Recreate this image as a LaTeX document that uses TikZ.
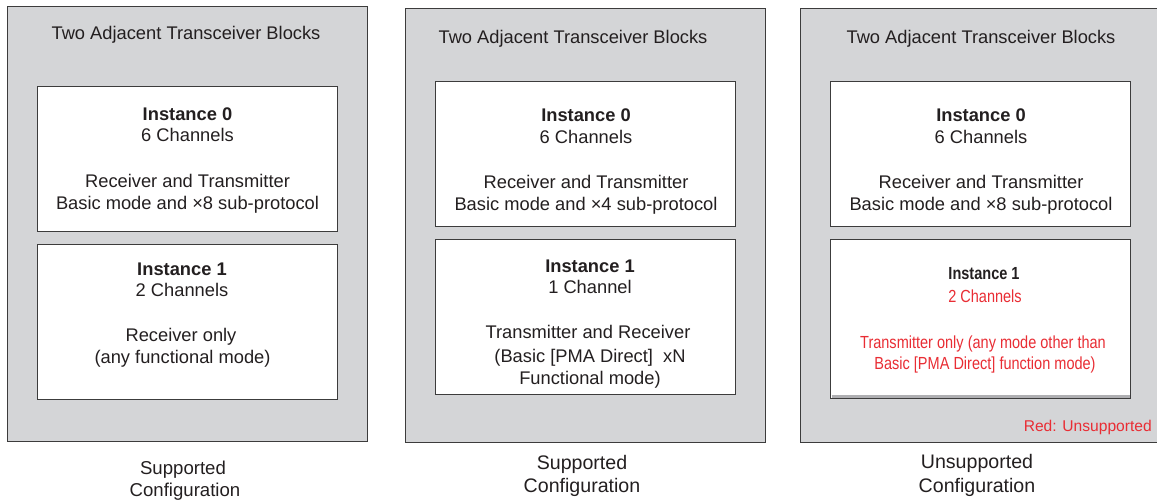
\documentclass[tikz,border=0pt]{standalone}
\usepackage{fontspec}
\setmainfont{Liberation Sans}
\newfontfamily\narrowfont[FakeStretch=0.83]{Liberation Sans}
\definecolor{panelgray}{RGB}{212,213,215}
\definecolor{edgegray}{RGB}{60,60,60}
\definecolor{ink}{RGB}{35,31,32}
\definecolor{alert}{RGB}{233,45,52}
\definecolor{shadowgray}{RGB}{175,175,178}
\begin{document}
\begin{tikzpicture}[x=1pt,y=-1pt,
  panel/.style={draw=edgegray, fill=panelgray, line width=1.4pt, anchor=north west, inner sep=0pt},
  inbox/.style={draw=edgegray, fill=white, line width=1.4pt, anchor=north west, inner sep=0pt, minimum width=300pt},
  txt/.style={anchor=base, inner sep=0pt, text=ink, font=\fontsize{18.3}{22}\selectfont},
  btxt/.style={txt, font=\fontsize{18.3}{22}\selectfont\bfseries},
  captxt/.style={txt, font=\fontsize{19.6}{24}\selectfont},
  ntxt/.style={anchor=base, inner sep=0pt, text=alert, font=\fontsize{17.5}{21}\selectfont\narrowfont},
  nbtxt/.style={anchor=base, inner sep=0pt, text=ink, font=\fontsize{17.5}{21}\selectfont\narrowfont\bfseries}]
\useasboundingbox (0,0) rectangle (1157,502);
% ---------- panel 1
\node[panel, minimum width=360pt, minimum height=435pt] (p1) at (7,6) {};
\node[inbox, minimum height=145pt] (p1a) at (37,86) {};
\node[inbox, minimum height=155pt] (p1b) at (37,244) {};
\node[txt] (p1t) at (186,39.5) {Two Adjacent Transceiver Blocks};
\node[btxt] (p1a1) at (187.5,120.5) {Instance 0};
\node[txt] (p1a2) at (187.5,141.5) {6 Channels};
\node[txt] (p1a3) at (187.5,187.5) {Receiver and Transmitter};
\node[txt] (p1a4) at (187.5,209.5) {Basic mode and ×8 sub-protocol};
\node[btxt] (p1b1) at (182,275.5) {Instance 1};
\node[txt] (p1b2) at (182,296.5) {2 Channels};
\node[txt] (p1b3) at (181,341.5) {Receiver only};
\node[txt] (p1b4) at (182.5,363.5) {(any functional mode)};
\node[captxt, font=\fontsize{18.6}{22}\selectfont] (p1c1) at (183,474.5) {Supported};
\node[captxt, font=\fontsize{18.6}{22}\selectfont] (p1c2) at (185,496.5) {Configuration};
% ---------- panel 2
\node[panel, minimum width=360pt, minimum height=434pt] (p2) at (405,8) {};
\node[inbox, minimum height=145pt] (p2a) at (435,81) {};
\node[inbox, minimum height=155pt] (p2b) at (435,239) {};
\node[txt] (p2t) at (573,43.5) {Two Adjacent Transceiver Blocks};
\node[btxt] (p2a1) at (586,121.5) {Instance 0};
\node[txt] (p2a2) at (586,143.5) {6 Channels};
\node[txt] (p2a3) at (586,188.5) {Receiver and Transmitter};
\node[txt] (p2a4) at (586,210.5) {Basic mode and ×4 sub-protocol};
\node[btxt] (p2b1) at (590,272.5) {Instance 1};
\node[txt] (p2b2) at (590,293.5) {1 Channel};
\node[txt] (p2b3) at (588,338.5) {Transmitter and Receiver};
\node[txt] (p2b4) at (590,362.5) {(Basic [PMA Direct]\ \ xN};
\node[txt] (p2b5) at (590,384.5) {Functional mode)};
\node[captxt] (p2c1) at (582,469) {Supported};
\node[captxt] (p2c2) at (582,492) {Configuration};
% ---------- panel 3
\node[panel, minimum width=380pt, minimum height=434pt] (p3) at (800,8) {};
\node[inbox, minimum height=145pt] (p3a) at (830,81) {};
\node[inbox, minimum height=159pt] (p3b) at (830,239) {};
\draw[shadowgray, line width=2.6pt] ([xshift=1.5pt,yshift=3pt]p3b.south west) -- ([xshift=-1.5pt,yshift=3pt]p3b.south east);
\node[txt] (p3t) at (981,43.5) {Two Adjacent Transceiver Blocks};
\node[btxt] (p3a1) at (981,121.5) {Instance 0};
\node[txt] (p3a2) at (981,143.5) {6 Channels};
\node[txt] (p3a3) at (981,188.5) {Receiver and Transmitter};
\node[txt] (p3a4) at (981,210.5) {Basic mode and ×8 sub-protocol};
\node[nbtxt] (p3b1) at (984,279.3) {Instance 1};
\node[ntxt] (p3b2) at (985,302.3) {2 Channels};
\node[ntxt] (p3b3) at (983,348.3) {Transmitter only (any mode other than};
\node[ntxt] (p3b4) at (985,369.3) {Basic [PMA Direct] function mode)};
\node[txt, anchor=base east, text=alert, font=\fontsize{15.6}{19}\selectfont] (p3r) at (1152,431.5) {Red: Unsupported};
\node[captxt] (p3c1) at (977,468) {Unsupported};
\node[captxt] (p3c2) at (977,493) {Configuration};
\end{tikzpicture}
\end{document}
